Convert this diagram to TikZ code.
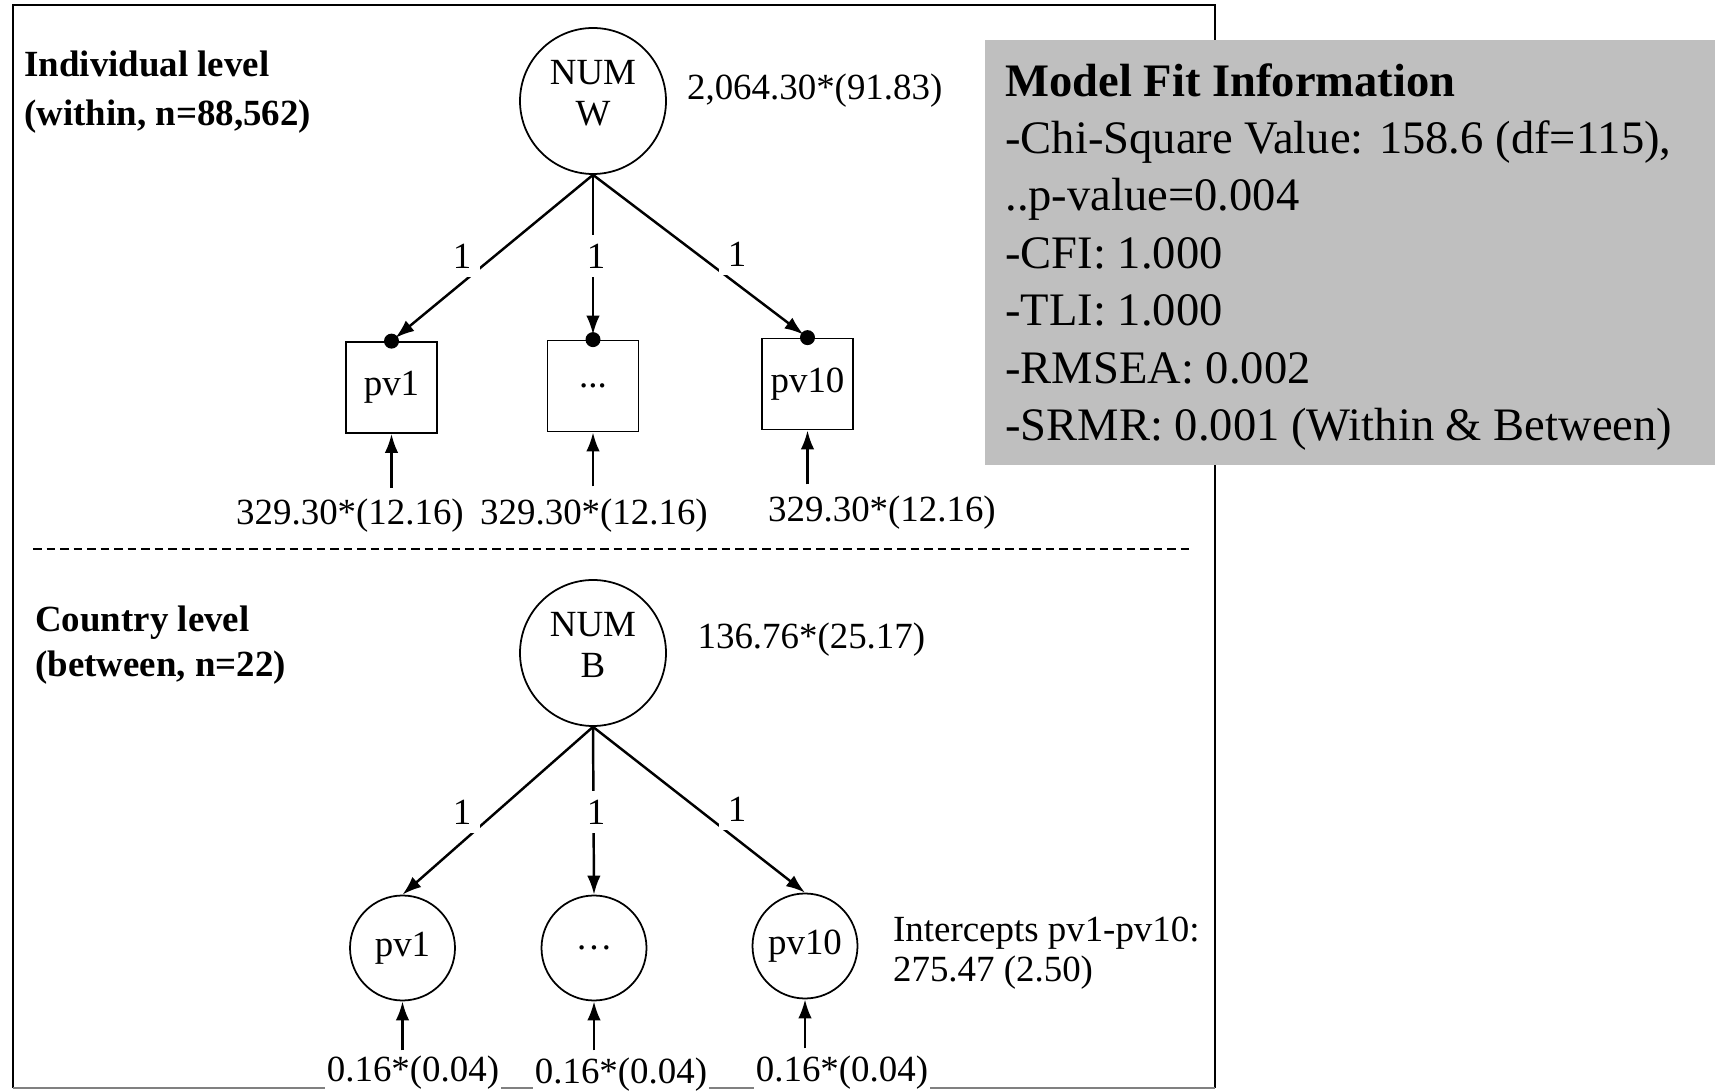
\documentclass[tikz,border=0pt]{standalone}
\usepackage{fontspec}
\setmainfont{Liberation Serif}
\usetikzlibrary{arrows.meta}
\definecolor{boxgray}{RGB}{191,191,191}

\begin{document}
\begin{tikzpicture}[
  txt/.style={font=\fontsize{21}{24}\selectfont, inner sep=1pt},
  lvl/.style={font=\bfseries\fontsize{21}{28}\selectfont, align=left, anchor=west, inner sep=0pt},
  lat/.style={draw, circle, line width=1pt, minimum size=2.92cm, inner sep=0pt, text depth=0.32cm, align=center, font=\fontsize{21}{23}\selectfont},
  obs/.style={draw, rectangle, line width=1pt, minimum size=1.82cm, inner sep=1pt, font=\fontsize{21}{24}\selectfont},
  ind/.style={draw, circle, line width=1pt, minimum size=2.1cm, inner sep=0pt, font=\fontsize{21}{24}\selectfont},
  arr/.style={-{Latex[length=0.38cm,width=0.27cm]}, line width=1.4pt},
  one/.style={txt, fill=white, inner sep=5pt}]
  \useasboundingbox (0,0) rectangle (34.3,21.82);
  \draw[line width=1pt] (0.26,0.06) -- (0.26,21.72) -- (24.3,21.72) -- (24.3,0.06);
  \draw[line width=1pt, gray] (0.26,0.06) -- (24.3,0.06);

  % within level
  \node[lvl] (wlab) at (0.48,19.97) {Individual level\\(within, n=88,562)};
  \node[lat] (numw) at (11.86,19.8) {NUM\\W};
  \node[txt, anchor=west] (varw) at (13.7,20.0) {2,064.30*(91.83)};
  \node[obs] (pvw1) at (7.83,14.07) {pv1};
  \node[obs] (pvwd) at (11.86,14.1) {...};
  \node[obs] (pvw10) at (16.15,14.14) {pv10};
  \foreach \n in {pvw1,pvwd,pvw10} {
    \draw[arr, shorten >=0.1cm] (numw.south) -- (\n.north);
    \fill (\n.north) circle (0.15);
    \draw[arr] ([yshift=-1.08cm]\n.south) -- (\n.south); }
  \node[one] (lw1) at (9.24,16.7) {1};
  \node[one] (lwd) at (11.92,16.7) {1};
  \node[one] (lw10) at (14.74,16.74) {1};
  \node[one, inner sep=1pt] (ew1) at (7.0,11.5) {329.30*(12.16)};
  \node[one, inner sep=1pt] (ewd) at (11.88,11.5) {329.30*(12.16)};
  \node[one, inner sep=1pt] (ew10) at (17.64,11.56) {329.30*(12.16)};

  \draw[dash pattern=on 0.17cm off 0.1cm, line width=0.7pt] (0.66,10.84) -- (23.8,10.84);

  % between level
  \node[lvl, font=\bfseries\fontsize{21}{25.6}\selectfont] (blab) at (0.7,8.92) {Country level\\(between, n=22)};
  \node[lat] (numb) at (11.86,8.76) {NUM\\B};
  \node[txt, anchor=west] (varb) at (13.91,9.03) {136.76*(25.17)};
  \node[ind] (pvb1) at (8.05,2.86) {pv1};
  \node[ind] (pvbd) at (11.88,2.86) {…};
  \node[ind] (pvb10) at (16.1,2.9) {pv10};
  \foreach \n in {pvb1,pvbd,pvb10} {
    \draw[arr] (numb.south) -- (\n.north);
    \draw[arr] ([yshift=-0.98cm]\n.south) -- (\n.south); }
  \node[one] (lb1) at (9.24,5.58) {1};
  \node[one] (lbd) at (11.92,5.58) {1};
  \node[one] (lb10) at (14.74,5.64) {1};
  \node[one, inner sep=1pt] (eb1) at (8.26,0.36) {0.16*(0.04)};
  \node[one, inner sep=1pt] (ebd) at (12.42,0.32) {0.16*(0.04)};
  \node[one, inner sep=1pt] (eb10) at (16.84,0.36) {0.16*(0.04)};
  \node[txt, align=left, anchor=west, font=\fontsize{21}{22.8}\selectfont] (icpt) at (17.82,2.76) {Intercepts pv1-pv10:\\275.47 (2.50)};

  % fit box
  \fill[boxgray] (19.7,12.52) rectangle (34.3,21.02);
  \node[anchor=west, align=left, inner sep=0pt, font=\fontsize{26.5}{32.7}\selectfont]
    (fit) at (20.1,16.68) {\textbf{Model Fit Information}\\-Chi-Square Value: 158.6 (df=115),\\..p-value=0.004\\-CFI: 1.000\\-TLI: 1.000\\-RMSEA: 0.002\\-SRMR: 0.001 (Within \& Between)};
\end{tikzpicture}
\end{document}
